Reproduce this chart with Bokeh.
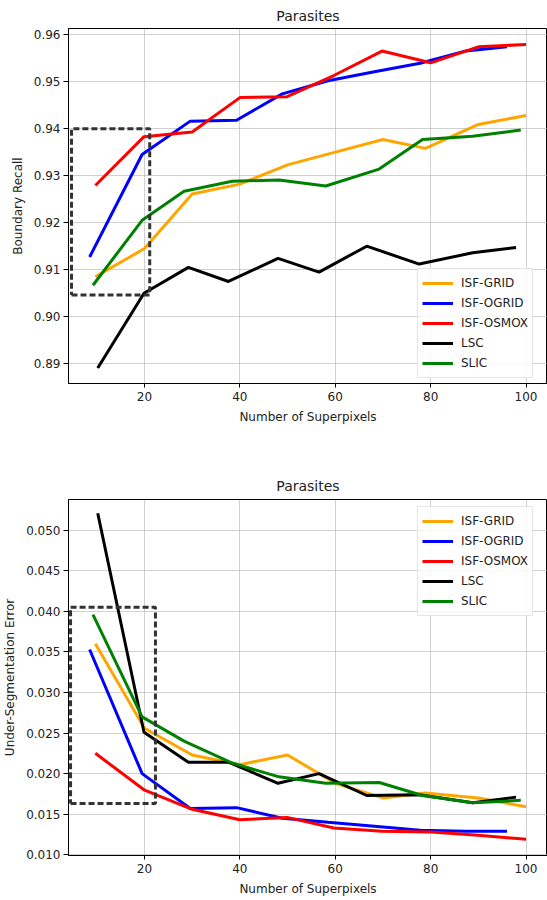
from bokeh.plotting import figure
from bokeh.layouts import column
from bokeh.models import Range1d, FixedTicker, NumeralTickFormatter, Legend, LegendItem
from bokeh.embed import file_html
from bokeh.resources import INLINE

# ---- data ----
methods = ["ISF-GRID", "ISF-OGRID", "ISF-OSMOX", "LSC", "SLIC"]
colors = ["orange", "blue", "red", "black", "green"]

x_grid = [9.7, 20.0, 30.0, 40.0, 50.0, 60.0, 70.0, 78.9, 90.0, 100.0]
x_ogrid = [8.5, 19.5, 29.6, 39.3, 48.9, 58.5, 68.2, 77.8, 87.4, 96.0]
x_osmox = [9.7, 19.9, 30.0, 40.0, 49.9, 59.7, 69.8, 80.0, 90.0, 100.0]
x_lsc = [10.2, 19.9, 29.2, 37.6, 48.0, 56.6, 66.6, 77.6, 88.8, 97.9]
x_slic = [9.2, 19.5, 28.3, 38.4, 48.2, 58.0, 69.2, 78.3, 88.8, 98.9]

br_grid = [0.9084, 0.9144, 0.9260, 0.9281, 0.9322, 0.9349, 0.9376, 0.9357, 0.9408, 0.9427]
br_ogrid = [0.9126, 0.9344, 0.9415, 0.9417, 0.9473, 0.9501, 0.9520, 0.9538, 0.9564, 0.9573]
br_osmox = [0.9278, 0.9382, 0.9392, 0.9465, 0.9467, 0.9512, 0.9564, 0.9539, 0.9573, 0.9578]
br_lsc = [0.8890, 0.9049, 0.9104, 0.9074, 0.9123, 0.9094, 0.9149, 0.9111, 0.9135, 0.9146]
br_slic = [0.9066, 0.9204, 0.9266, 0.9287, 0.9290, 0.9277, 0.9313, 0.9376, 0.9383, 0.9396]

ue_grid = [0.0360, 0.0256, 0.0223, 0.0211, 0.0223, 0.0188, 0.0170, 0.0176, 0.0170, 0.0159]
ue_ogrid = [0.0353, 0.0200, 0.0157, 0.0158, 0.0145, 0.0140, 0.0135, 0.0130, 0.0129, 0.0129]
ue_osmox = [0.0225, 0.0180, 0.0156, 0.0143, 0.0146, 0.0133, 0.0129, 0.0128, 0.0124, 0.0119]
ue_lsc = [0.0521, 0.0251, 0.0214, 0.0214, 0.0188, 0.0200, 0.0173, 0.0174, 0.0164, 0.0171]
ue_slic = [0.0396, 0.0270, 0.0240, 0.0213, 0.0196, 0.0188, 0.0189, 0.0173, 0.0164, 0.0167]

x_ticks = [20, 40, 60, 80, 100]
br_ticks = [0.89, 0.90, 0.91, 0.92, 0.93, 0.94, 0.95, 0.96]
ue_ticks = [0.010, 0.015, 0.020, 0.025, 0.030, 0.035, 0.040, 0.045, 0.050]

# zoom boxes (left, right, bottom, top) in data units
br_box = [4.7, 21.1, 0.9045, 0.9399]
ue_box = [4.5, 22.3, 0.0163, 0.0405]

xs_all = [x_grid, x_ogrid, x_osmox, x_lsc, x_slic]
br_all = [br_grid, br_ogrid, br_osmox, br_lsc, br_slic]
ue_all = [ue_grid, ue_ogrid, ue_osmox, ue_lsc, ue_slic]

FONT = "DejaVu Sans"
TXT = "#222222"


def make_fig(ys_all, yrange, yticks, yfmt, ylabel, box, legend_loc, height, bt, bb, tstand):
    p = figure(width=547, height=height, output_backend="svg", toolbar_location=None,
               x_range=Range1d(4.07, 104.5), y_range=Range1d(*yrange),
               min_border_left=68, min_border_right=0, min_border_top=bt, min_border_bottom=bb)
    p.title.text = "Parasites"
    p.title.align = "center"
    p.title.text_font = FONT
    p.title.text_font_size = "14px"
    p.title.text_font_style = "normal"
    p.title.text_color = TXT
    p.title.standoff = tstand
    p.outline_line_color = "black"
    p.outline_line_width = 1
    p.outline_line_alpha = 1
    for ax in (p.xaxis[0], p.yaxis[0]):
        ax.major_label_text_font = FONT
        ax.major_label_text_font_size = "12px"
        ax.major_label_text_color = TXT
        ax.axis_label_text_font = FONT
        ax.axis_label_text_font_size = "12px"
        ax.axis_label_text_font_style = "normal"
        ax.axis_label_text_color = TXT
        ax.minor_tick_line_color = None
        ax.major_tick_in = 0
        ax.axis_line_color = "black"
        ax.major_tick_line_color = "black"
    p.xaxis.major_tick_out = 4
    p.xaxis.major_label_standoff = 4
    p.xaxis.axis_label_standoff = 6
    p.yaxis.major_tick_out = 5
    p.yaxis.major_label_standoff = 3
    p.yaxis.axis_label_standoff = 6
    p.xaxis.ticker = FixedTicker(ticks=x_ticks)
    p.yaxis.ticker = FixedTicker(ticks=yticks)
    p.yaxis.formatter = NumeralTickFormatter(format=yfmt)
    p.xaxis.axis_label = "Number of Superpixels"
    p.yaxis.axis_label = ylabel
    p.grid.grid_line_color = "#b0b0b0"
    p.grid.grid_line_alpha = 0.6
    p.grid.grid_line_width = 1

    items = []
    for name, c, xs, ys in zip(methods, colors, xs_all, ys_all):
        r = p.line(xs, ys, line_color=c, line_width=3)
        items.append(LegendItem(label=name, renderers=[r]))

    l, rgt, b, t = box
    p.line([l, rgt, rgt, l, l], [b, b, t, t, b], line_color="#333333", line_width=3,
           line_dash="6 3")

    leg = Legend(items=items, location=legend_loc)
    leg.label_text_font = FONT
    leg.label_text_font_size = "12px"
    leg.label_text_color = TXT
    leg.glyph_width = 31
    leg.glyph_height = 20
    leg.label_height = 20
    leg.label_standoff = 8
    leg.spacing = 0
    leg.padding = 4
    leg.margin = 0
    leg.border_line_color = "#cccccc"
    leg.border_line_width = 1
    leg.background_fill_alpha = 0.85
    p.add_layout(leg)
    return p


p1 = make_fig(br_all, (0.8857, 0.9612), br_ticks, "0.00", "Boundary Recall", br_box,
              (349, 5), 440, 27, 57, 10)
p2 = make_fig(ue_all, (0.0099, 0.0538), ue_ticks, "0.000", "Under-Segmentation Error", ue_box,
              (349, 239), 458, 59, 42, 11)

layout = column(p1, p2, spacing=0)
open("out.html", "w").write(file_html(layout, INLINE))
